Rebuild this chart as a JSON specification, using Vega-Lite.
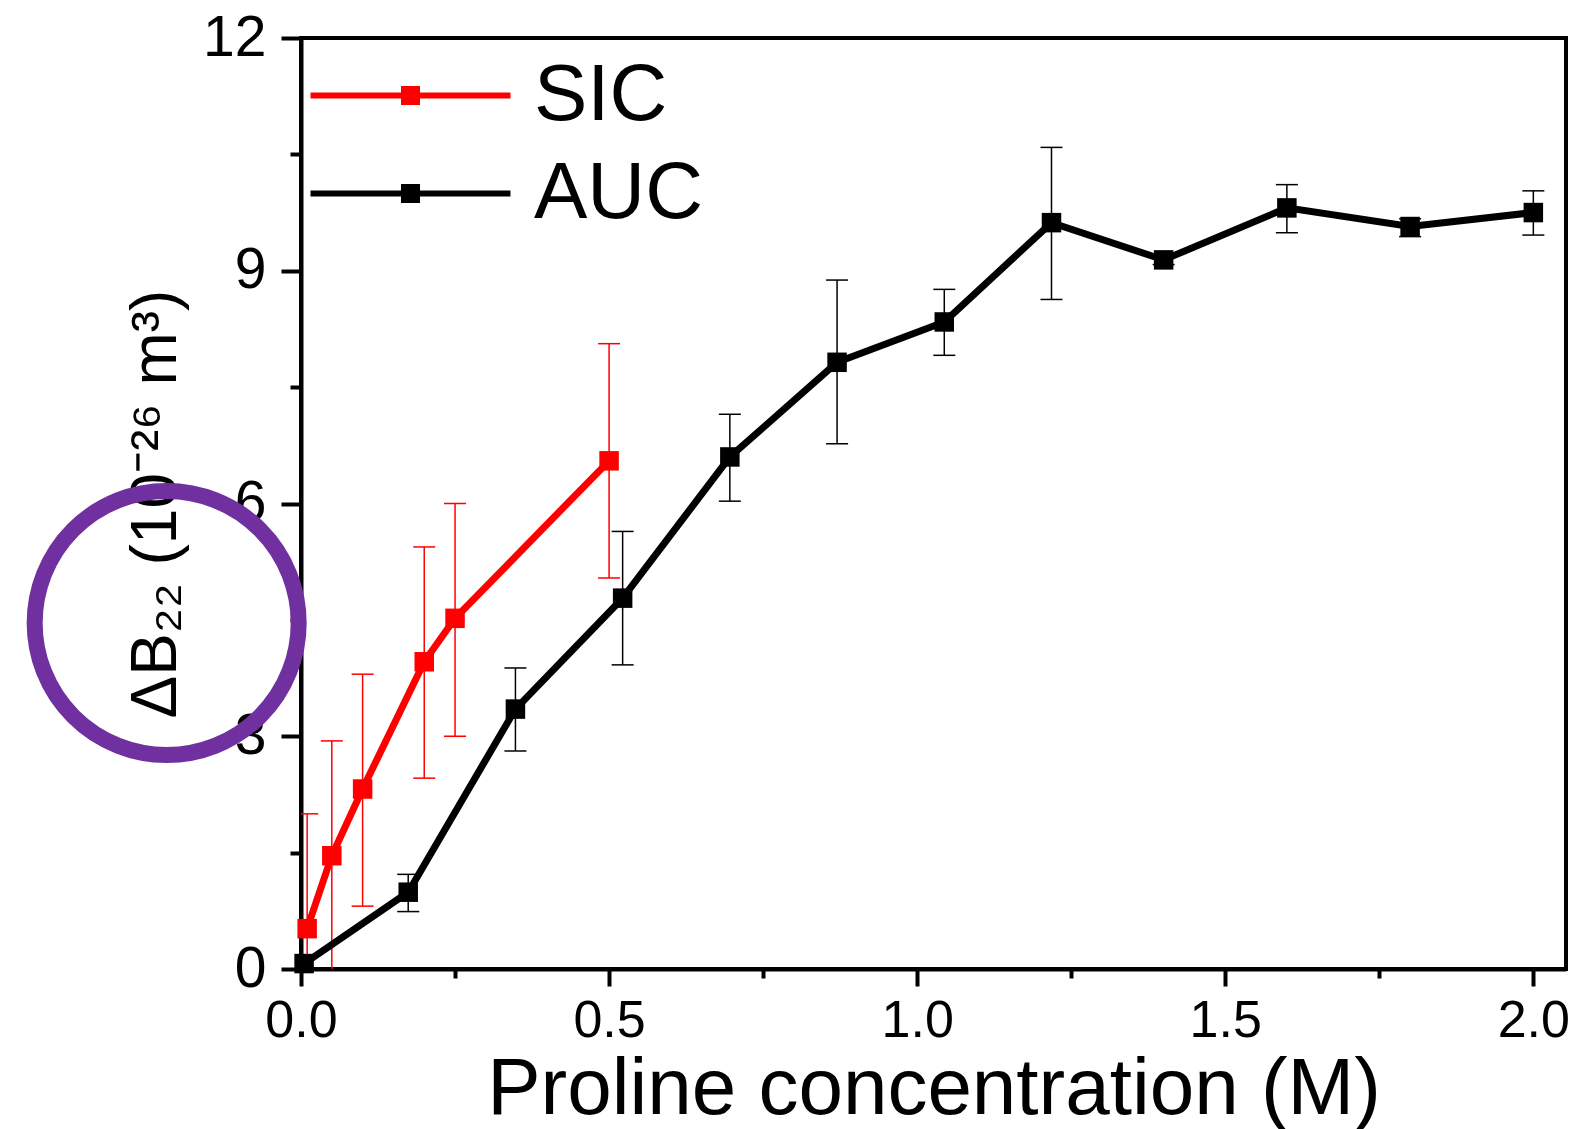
{
  "$schema": "https://vega.github.io/schema/vega-lite/v6.json",
  "autosize": {"type": "none"},
  "width": 1265,
  "height": 931,
  "padding": {"left": 301, "top": 38, "right": 16, "bottom": 160},
  "background": "white",
  "config": {
    "font": "Liberation Sans",
    "view": {"stroke": "black", "strokeWidth": 4},
    "axis": {"grid": false, "domainColor": "black", "tickColor": "black", "labelColor": "black", "titleColor": "black", "titleFontWeight": "normal", "labelFont": "Liberation Sans", "titleFont": "Liberation Sans"}
  },
  "datasets": {
    "pts": [
      {"series": "SIC", "x": 0.01, "y": 0.52, "lo": -0.98, "hi": 2.0},
      {"series": "SIC", "x": 0.05, "y": 1.46, "lo": -0.02, "hi": 2.94},
      {"series": "SIC", "x": 0.10, "y": 2.32, "lo": 0.81, "hi": 3.80},
      {"series": "SIC", "x": 0.20, "y": 3.96, "lo": 2.46, "hi": 5.44},
      {"series": "SIC", "x": 0.25, "y": 4.52, "lo": 3.0, "hi": 6.0},
      {"series": "SIC", "x": 0.50, "y": 6.55, "lo": 5.04, "hi": 8.06},
      {"series": "AUC", "x": 0.005, "y": 0.07, "lo": -0.01, "hi": 0.15},
      {"series": "AUC", "x": 0.174, "y": 0.99, "lo": 0.74, "hi": 1.22},
      {"series": "AUC", "x": 0.348, "y": 3.35, "lo": 2.81, "hi": 3.88},
      {"series": "AUC", "x": 0.522, "y": 4.78, "lo": 3.92, "hi": 5.64},
      {"series": "AUC", "x": 0.696, "y": 6.60, "lo": 6.03, "hi": 7.15},
      {"series": "AUC", "x": 0.870, "y": 7.82, "lo": 6.77, "hi": 8.88},
      {"series": "AUC", "x": 1.044, "y": 8.34, "lo": 7.91, "hi": 8.76},
      {"series": "AUC", "x": 1.218, "y": 9.62, "lo": 8.63, "hi": 10.59},
      {"series": "AUC", "x": 1.40, "y": 9.14, "lo": 9.08, "hi": 9.20},
      {"series": "AUC", "x": 1.60, "y": 9.81, "lo": 9.49, "hi": 10.11},
      {"series": "AUC", "x": 1.80, "y": 9.57, "lo": 9.44, "hi": 9.67},
      {"series": "AUC", "x": 2.00, "y": 9.75, "lo": 9.46, "hi": 10.03}
    ],
    "mark": [{"x": -0.218, "y": 4.46}]
  },
  "resolve": {"axis": {"x": "independent", "y": "independent"}},
  "layer": [
    {
      "data": {"name": "pts"},
      "layer": [
        {
          "mark": {"type": "rule", "strokeWidth": 1.5, "clip": true},
          "encoding": {
            "x": {"field": "x", "type": "quantitative", "scale": {"domain": [0, 2.053], "nice": false, "zero": false}, "title": "Proline concentration (M)"},
            "y": {"field": "lo", "type": "quantitative", "scale": {"domain": [0, 12], "nice": false, "zero": false}, "title": "ΔB₂₂ (10⁻²⁶ m³)"},
            "y2": {"field": "hi"},
            "color": {"field": "series", "type": "nominal", "scale": {"domain": ["SIC", "AUC"], "range": ["#ff0000", "#000000"]}}
          }
        },
        {
          "mark": {"type": "tick", "orient": "horizontal", "size": 22, "thickness": 1.5, "opacity": 1, "clip": true},
          "encoding": {
            "x": {"field": "x", "type": "quantitative", "title": "Proline concentration (M)"},
            "y": {"field": "lo", "type": "quantitative", "title": "ΔB₂₂ (10⁻²⁶ m³)"},
            "color": {"field": "series", "type": "nominal"}
          }
        },
        {
          "mark": {"type": "tick", "orient": "horizontal", "size": 22, "thickness": 1.5, "opacity": 1, "clip": true},
          "encoding": {
            "x": {"field": "x", "type": "quantitative", "title": "Proline concentration (M)"},
            "y": {"field": "hi", "type": "quantitative", "title": "ΔB₂₂ (10⁻²⁶ m³)"},
            "color": {"field": "series", "type": "nominal"}
          }
        },
        {
          "mark": {"type": "line", "strokeWidth": 7},
          "encoding": {
            "x": {"field": "x", "type": "quantitative", "title": "Proline concentration (M)",
              "axis": {"values": [0, 0.5, 1, 1.5, 2], "format": ".1f", "labelFontSize": 52, "tickSize": 17, "tickWidth": 4, "domainWidth": 4, "labelPadding": 9, "titleFontSize": 80, "titlePadding": 4, "labelFlush": false, "labelOverlap": false}},
            "y": {"field": "y", "type": "quantitative", "title": "ΔB₂₂ (10⁻²⁶ m³)",
              "axis": {"values": [0, 3, 6, 9, 12], "format": "d", "labelFontSize": 57, "tickSize": 20, "tickWidth": 4, "domainWidth": 4, "labelPadding": 15, "titleFontSize": 64, "titlePadding": 14, "labelFlush": false, "labelOverlap": false}},
            "color": {"field": "series", "type": "nominal"}
          }
        },
        {
          "mark": {"type": "point", "shape": "square", "filled": true, "size": 380, "opacity": 1},
          "encoding": {
            "x": {"field": "x", "type": "quantitative", "title": "Proline concentration (M)"},
            "y": {"field": "y", "type": "quantitative", "title": "ΔB₂₂ (10⁻²⁶ m³)"},
            "color": {"field": "series", "type": "nominal",
              "legend": {"orient": "none", "legendX": 60, "legendY": 8, "title": null,
                "symbolType": "M-2.15,0H2.15M-0.14,-0.14H0.14V0.14H-0.14Z",
                "symbolSize": 8649, "symbolStrokeWidth": 6, "symbolOpacity": 1,
                "labelFontSize": 80, "labelColor": "black", "labelOffset": 74, "labelLimit": 600,
                "rowPadding": 8, "padding": 0,
                "encode": {"symbols": {"update": {"stroke": {"scale": "color", "field": "value"}, "strokeWidth": {"value": 6}}}}}}
          }
        }
      ]
    },
    {
      "data": {"name": "mark"},
      "mark": {"type": "point", "shape": "circle", "filled": false, "stroke": "#7030A0", "strokeWidth": 16, "size": 69696, "opacity": 1, "clip": false},
      "encoding": {
        "x": {"field": "x", "type": "quantitative", "scale": {"domain": [0, 2.053], "nice": false, "zero": false},
          "axis": {"orient": "bottom", "values": [0.25, 0.75, 1.25, 1.75], "labels": false, "domain": false, "tickSize": 9, "tickWidth": 4, "title": null}},
        "y": {"field": "y", "type": "quantitative", "scale": {"domain": [0, 12], "nice": false, "zero": false},
          "axis": {"orient": "left", "values": [1.5, 4.5, 7.5, 10.5], "labels": false, "domain": false, "tickSize": 11, "tickWidth": 4, "title": null}}
      }
    }
  ]
}
